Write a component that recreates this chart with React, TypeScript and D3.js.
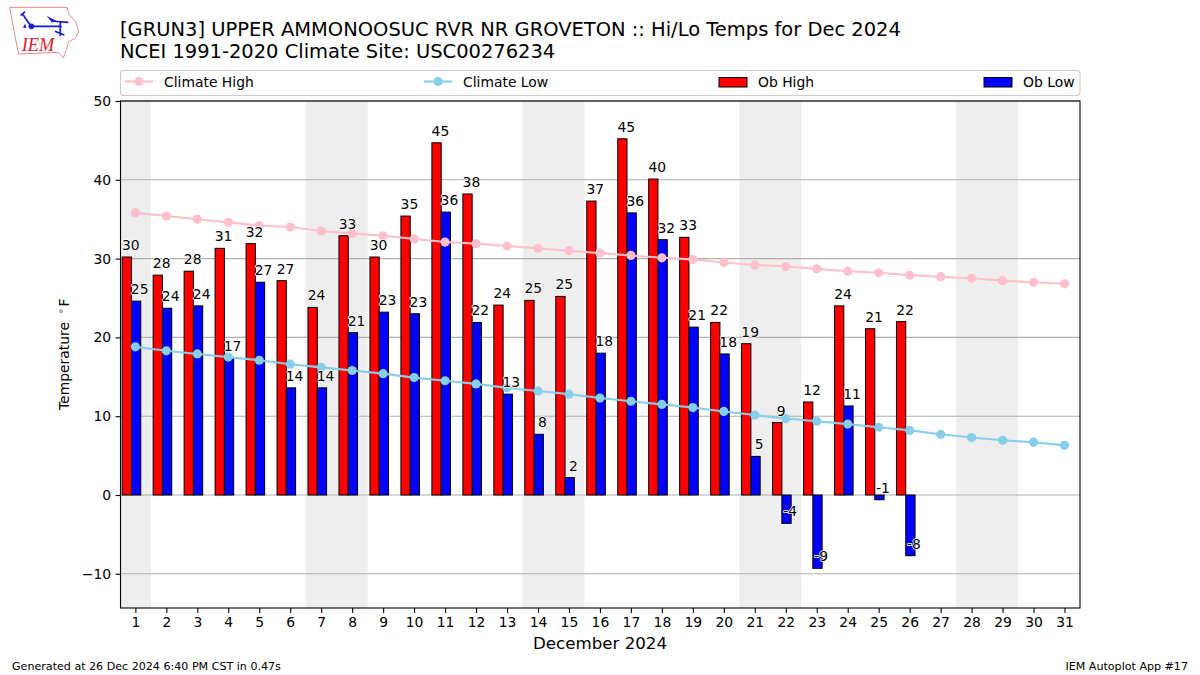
import * as d3 from "d3"
import { useEffect, useRef } from "react"

const days = d3.range(1, 32)
const climateHigh = [35.8, 35.4, 35.0, 34.6, 34.2, 34.0, 33.5, 33.2, 32.9, 32.5, 32.1, 31.9, 31.6, 31.3, 31.0, 30.7, 30.4, 30.1, 29.9, 29.5, 29.2, 29.0, 28.7, 28.4, 28.2, 27.9, 27.7, 27.5, 27.2, 27.0, 26.8]
const climateLow = [18.8, 18.3, 17.9, 17.5, 17.1, 16.6, 16.2, 15.8, 15.4, 14.9, 14.5, 14.1, 13.6, 13.2, 12.8, 12.3, 11.9, 11.5, 11.1, 10.6, 10.15, 9.7, 9.35, 9.0, 8.6, 8.2, 7.7, 7.3, 6.95, 6.7, 6.3]
const obHigh = [30.2, 27.9, 28.4, 31.3, 31.9, 27.2, 23.8, 32.9, 30.2, 35.4, 44.7, 38.2, 24.1, 24.7, 25.2, 37.3, 45.2, 40.1, 32.7, 21.9, 19.2, 9.2, 11.8, 24.0, 21.1, 22.0]
const obLow = [24.6, 23.7, 24.0, 17.4, 27.0, 13.6, 13.6, 20.6, 23.2, 23.0, 35.9, 21.9, 12.8, 7.7, 2.2, 18.0, 35.8, 32.4, 21.3, 17.9, 4.9, -3.6, -9.3, 11.3, -0.6, -7.7]
const weekendSpans = [[1, 1], [7, 8], [14, 15], [21, 22], [28, 29]]
const yTicks = [-10, 0, 10, 20, 30, 40, 50]

const titleLines = [
  "[GRUN3] UPPER AMMONOOSUC RVR NR GROVETON :: Hi/Lo Temps for Dec 2024",
  "NCEI 1991-2020 Climate Site: USC00276234",
]
const font = "'DejaVu Sans', sans-serif"

export default function App() {
  const ref = useRef<SVGSVGElement | null>(null)

  useEffect(() => {
    if (!ref.current) return
    const svg = d3.select(ref.current)
    svg.selectAll("*").remove()
    svg.style("font-family", font)

    const left = 120.5, right = 1080, top = 101, bottom = 608
    const x = d3.scaleLinear().domain([0.52, 31.5]).range([left, right])
    const y = d3.scaleLinear().domain([-14.34, 50]).range([bottom, top])
    const bw = x(1.3) - x(1)

    // weekend shading
    svg.append("g").selectAll("rect").data(weekendSpans).enter().append("rect")
      .attr("x", (d) => Math.max(x(d[0] - 0.5), left))
      .attr("y", top)
      .attr("width", (d) => x(d[1] + 0.5) - Math.max(x(d[0] - 0.5), left))
      .attr("height", bottom - top)
      .attr("fill", "#eeeeee")

    // grid
    svg.append("g").selectAll("line").data(yTicks).enter().append("line")
      .attr("x1", left).attr("x2", right)
      .attr("y1", (d) => y(d)).attr("y2", (d) => y(d))
      .attr("stroke", "#b0b0b0").attr("stroke-width", 1.1)

    // bars
    const bars = (vals: number[], off: number, color: string) => {
      svg.append("g").selectAll("rect").data(vals).enter().append("rect")
        .attr("x", (_, i) => x(days[i] + off) - bw / 2)
        .attr("y", (d) => Math.min(y(d), y(0)))
        .attr("width", bw)
        .attr("height", (d) => Math.abs(y(d) - y(0)))
        .attr("fill", color)
        .attr("stroke", "black")
        .attr("stroke-width", 1)
    }
    bars(obHigh, -0.276, "red")
    bars(obLow, 0.024, "blue")

    // climate lines
    const climate = (vals: number[], color: string) => {
      const line = d3.line<number>().x((_, i) => x(days[i])).y((d) => y(d))
      svg.append("path").attr("d", line(vals)).attr("fill", "none")
        .attr("stroke", color).attr("stroke-width", 2.1)
      svg.append("g").selectAll("circle").data(vals).enter().append("circle")
        .attr("cx", (_, i) => x(days[i])).attr("cy", (d) => y(d)).attr("r", 4.6)
        .attr("fill", color)
    }
    climate(climateHigh, "pink")
    climate(climateLow, "skyblue")

    // value labels
    const labels = (vals: number[], off: number) => {
      svg.append("g").selectAll("text").data(vals).enter().append("text")
        .attr("x", (_, i) => x(days[i] + off))
        .attr("y", (d) => y(d) - 7)
        .attr("text-anchor", "middle")
        .attr("font-size", 13.9)
        .attr("fill", "black")
        .attr("stroke", "white")
        .attr("stroke-width", 1.5)
        .attr("stroke-linejoin", "round")
        .style("paint-order", "stroke")
        .text((d) => String(Math.round(d)))
    }
    labels(obHigh, -0.15)
    labels(obLow, 0.14)

    // frame and axes
    svg.append("rect").attr("x", left).attr("y", top)
      .attr("width", right - left).attr("height", bottom - top)
      .attr("fill", "none").attr("stroke", "black").attr("stroke-width", 1.1)

    const xAxis = svg.append("g").attr("transform", `translate(0,${bottom})`)
      .call(d3.axisBottom(x).tickValues(days).tickFormat(d3.format("d")).tickSize(4.9).tickPadding(4.5))
    const yAxis = svg.append("g").attr("transform", `translate(${left},0)`)
      .call(d3.axisLeft(y).tickValues(yTicks).tickFormat(d3.format("d")).tickSize(4.9).tickPadding(4.5))
    for (const a of [xAxis, yAxis]) {
      a.select(".domain").remove()
      a.selectAll("text").attr("font-size", 13.9).attr("font-family", font).attr("fill", "black")
      a.selectAll("line").attr("stroke", "black").attr("stroke-width", 1.1)
    }

    // title
    svg.append("g").selectAll("text").data(titleLines).enter().append("text")
      .attr("x", 120).attr("y", (_, i) => 35.5 + i * 22)
      .attr("font-size", 19.48).text((d) => d)

    // legend
    svg.append("rect").attr("x", 120.5).attr("y", 70.5).attr("width", 959.5).attr("height", 25)
      .attr("rx", 3).attr("fill", "white").attr("stroke", "#cccccc").attr("stroke-width", 1.1)
    const legendText = (tx: number, s: string) =>
      svg.append("text").attr("x", tx).attr("y", 86.5).attr("font-size", 13.9).text(s)
    const legendLine = (lx: number, color: string, s: string) => {
      svg.append("line").attr("x1", lx).attr("x2", lx + 28).attr("y1", 81.5).attr("y2", 81.5)
        .attr("stroke", color).attr("stroke-width", 2.1)
      svg.append("circle").attr("cx", lx + 14).attr("cy", 81.5).attr("r", 4.6).attr("fill", color)
      legendText(lx + 39, s)
    }
    const legendBar = (lx: number, color: string, s: string) => {
      svg.append("rect").attr("x", lx).attr("y", 77.5).attr("width", 28).attr("height", 9.5)
        .attr("fill", color).attr("stroke", "black").attr("stroke-width", 1)
      legendText(lx + 39, s)
    }
    legendLine(125, "pink", "Climate High")
    legendLine(424, "skyblue", "Climate Low")
    legendBar(719, "red", "Ob High")
    legendBar(984, "blue", "Ob Low")

    // axis titles
    svg.append("text").attr("x", 600).attr("y", 649).attr("text-anchor", "middle")
      .attr("font-size", 16.67).text("December 2024")
    const yTitle = svg.append("g").attr("transform", "translate(68.5,410) rotate(-90)")
      .attr("font-size", 13.9)
    yTitle.append("text").text("Temperature")
    yTitle.append("text").attr("x", 99).attr("y", -5).attr("text-anchor", "middle")
      .attr("font-size", 9.7).text("∘")
    yTitle.append("text").attr("x", 103.5).text("F")

    // footer
    svg.append("text").attr("x", 12).attr("y", 670).attr("font-size", 11.1)
      .text("Generated at 26 Dec 2024 6:40 PM CST in 0.47s")
    svg.append("text").attr("x", 1188).attr("y", 670).attr("text-anchor", "end").attr("font-size", 11.1)
      .text("IEM Autoplot App #17")

    // IEM logo
    const logo = svg.append("g").attr("transform", "translate(5,3) scale(0.3333)")
    logo.append("path")
      .attr("d", "M14,13 L186,13 L192,35 L212,55 L221,85 L211,106 L191,116 L184,140 L175,165 L160,148 L41,153 L31,105 L21,50 Z")
      .attr("fill", "none").attr("stroke", "#e58a8a").attr("stroke-width", 3)
    logo.append("path")
      .attr("d", "M78,70 L170,70 M78,70 L52,32 M47,38 L60,26 M138,54 L190,58 M166,58 L166,100 M150,85 L178,96")
      .attr("fill", "none").attr("stroke", "#1a1ad0").attr("stroke-width", 5)
    logo.append("path").attr("d", "M125,38 L158,56 L140,58 Z").attr("fill", "#1a1ad0")
    logo.append("circle").attr("cx", 79).attr("cy", 70).attr("r", 8.5).attr("fill", "#1a1ad0")
    logo.append("path").attr("d", "M60,62 L65,74 L54,74 Z").attr("fill", "#1a1ad0")
    logo.append("text").attr("x", 50).attr("y", 143).attr("font-family", "'Liberation Serif', serif")
      .attr("font-style", "italic").attr("font-size", 55).attr("fill", "#d8232a").text("IEM")
  }, [])

  return (
    <svg ref={ref} width={1200} height={675}
      style={{ position: "absolute", left: 0, top: 0, background: "white" }} />
  )
}
